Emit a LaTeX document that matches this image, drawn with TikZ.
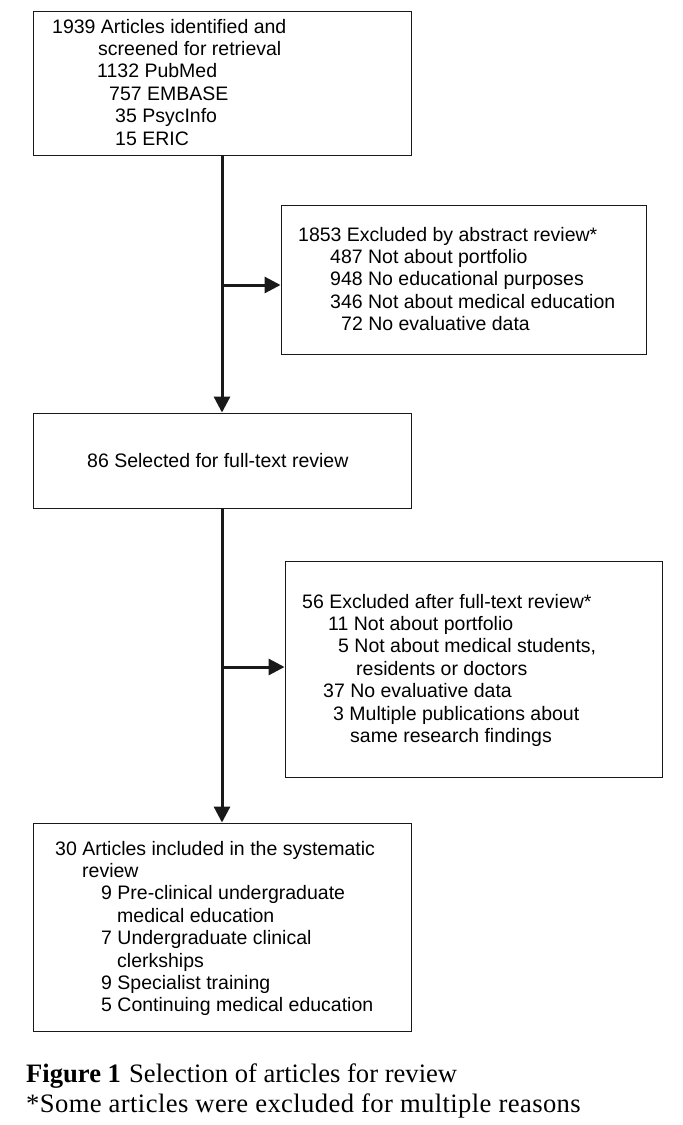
\documentclass[tikz,border=0pt]{standalone}
\usepackage{fontspec}
\setmainfont{Liberation Serif}
\newfontfamily\arialf{Liberation Sans}
\newfontfamily\capwide[LetterSpace=1.5]{Liberation Serif}
\usetikzlibrary{arrows.meta}
\begin{document}
\begin{tikzpicture}[x=1pt,y=-1pt,
  flowbox/.style={draw=black!90, line width=0.9pt, minimum width=#1, inner sep=0pt},
  linetxt/.style={anchor=base west, inner sep=0pt, font=\arialf\fontsize{19.5}{22.4}\selectfont},
  captxt/.style={anchor=base west, inner sep=0pt, font=\fontsize{26.6}{30}\selectfont},
  flowarr/.style={line width=3pt, -{Triangle[length=16pt,width=16pt]}, black!90}]
\useasboundingbox (0,0) rectangle (683,1125);
% boxes
\node[flowbox=378pt, minimum height=144pt] (b1) at (222,83) {};
\node[flowbox=365pt, minimum height=149pt] (b2) at (463.5,279.5) {};
\node[flowbox=378pt, minimum height=95pt] (b3) at (222,460.5) {};
\node[flowbox=377pt, minimum height=216pt] (b4) at (473.5,669) {};
\node[flowbox=378pt, minimum height=208pt] (b5) at (222,927) {};
% connectors
\coordinate (j1) at (222,285);
\coordinate (j2) at (222,667);
\draw[flowarr] (b1) -- (b3);
\draw[flowarr] (b3) -- (b5);
\draw[flowarr] (j1) -- (j1 -| b2.west);
\draw[flowarr] (j2) -- (j2 -| b4.west);
% box 1 text
\node[linetxt] (t1a) at (52,33) {1939 Articles identified and};
\node[linetxt] (t1b) at (98,55.4) {screened for retrieval};
\node[linetxt] (t1c) at (97,77.8) {1132 PubMed};
\node[linetxt] (t1d) at (109,100.2) {757 EMBASE};
\node[linetxt] (t1e) at (115,122.6) {35 PsycInfo};
\node[linetxt] (t1f) at (115,145) {15 ERIC};
% box 2 text
\node[linetxt] (t2a) at (298,241) {1853 Excluded by abstract review*};
\node[linetxt] (t2b) at (330,263.4) {487 Not about portfolio};
\node[linetxt] (t2c) at (330,285.8) {948 No educational purposes};
\node[linetxt] (t2d) at (330,308.2) {346 Not about medical education};
\node[linetxt] (t2e) at (341,330.6) {72 No evaluative data};
% box 3 text
\node[linetxt] (t3a) at (87,467) {86 Selected for full-text review};
% box 4 text
\node[linetxt] (t4a) at (302,608) {56 Excluded after full-text review*};
\node[linetxt] (t4b) at (328,630.4) {11 Not about portfolio};
\node[linetxt] (t4c) at (338,652.8) {5 Not about medical students,};
\node[linetxt] (t4d) at (356,675.2) {residents or doctors};
\node[linetxt] (t4e) at (323,697.6) {37 No evaluative data};
\node[linetxt] (t4f) at (333,720) {3 Multiple publications about};
\node[linetxt] (t4g) at (350,742.4) {same research findings};
% box 5 text
\node[linetxt] (t5a) at (55,855) {30 Articles included in the systematic};
\node[linetxt] (t5b) at (82,877.4) {review};
\node[linetxt] (t5c) at (101,899.8) {9 Pre-clinical undergraduate};
\node[linetxt] (t5d) at (117,922.2) {medical education};
\node[linetxt] (t5e) at (101,944.6) {7 Undergraduate clinical};
\node[linetxt] (t5f) at (117,967) {clerkships};
\node[linetxt] (t5g) at (101,989.4) {9 Specialist training};
\node[linetxt] (t5h) at (101,1011.8) {5 Continuing medical education};
% caption
\node[captxt] (c1) at (26,1082) {\makebox[103pt][l]{\textbf{Figure 1}}Selection of articles for review};
\node[captxt] (c2) at (26,1112) {\capwide\fontsize{26.6}{30}\selectfont *Some articles were excluded for multiple reasons};
\end{tikzpicture}
\end{document}
